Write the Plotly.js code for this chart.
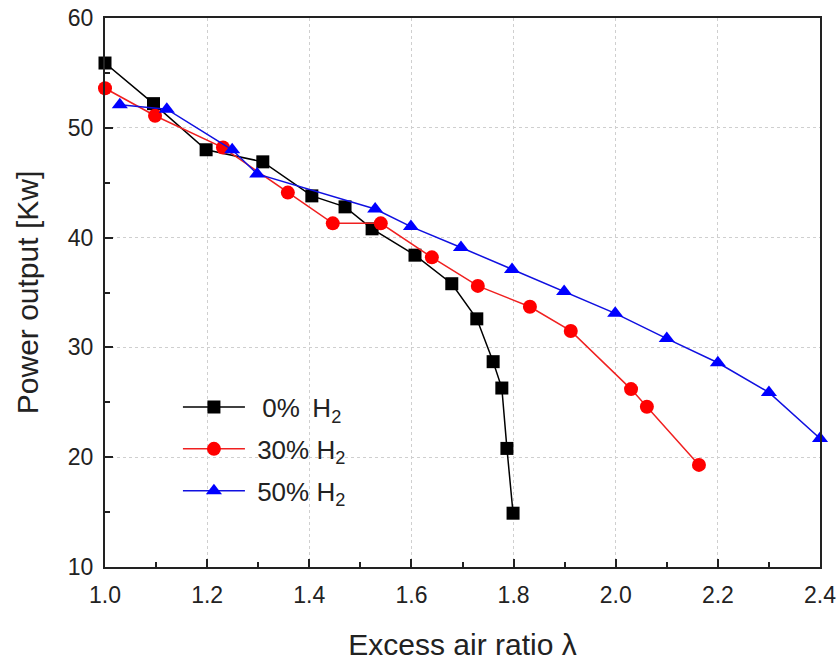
<!DOCTYPE html>
<html>
<head>
<meta charset="utf-8">
<script src="https://cdn.plot.ly/plotly-3.0.1.min.js"></script>
<style>html,body{margin:0;padding:0;background:#fff;}#chart{width:840px;height:661px;}</style>
</head>
<body>
<div id="chart"></div>
<script>
// Data
const h0_x = [1.00, 1.095, 1.198, 1.309, 1.405, 1.470, 1.523, 1.607, 1.679, 1.728, 1.760, 1.777, 1.787, 1.799];
const h0_y = [55.9, 52.2, 48.0, 46.9, 43.8, 42.8, 40.8, 38.4, 35.8, 32.6, 28.7, 26.3, 20.8, 14.9];

const h30_x = [1.00, 1.098, 1.231, 1.358, 1.446, 1.540, 1.640, 1.730, 1.832, 1.912, 2.030, 2.061, 2.163];
const h30_y = [53.6, 51.1, 48.2, 44.1, 41.3, 41.3, 38.2, 35.6, 33.7, 31.5, 26.2, 24.6, 19.3];

const h50_x = [1.029, 1.121, 1.249, 1.298, 1.529, 1.599, 1.697, 1.797, 1.899, 1.999, 2.100, 2.200, 2.300, 2.400];
const h50_y = [52.1, 51.7, 48.0, 45.8, 42.6, 41.0, 39.1, 37.1, 35.1, 33.1, 30.8, 28.6, 25.9, 21.7];

const names = ['\u00A0\u20090%\u00A0\u2009H<sub>2</sub>', '\u00A030% H<sub>2</sub>', '\u00A050% H<sub>2</sub>'];
const xTicks = [1.0, 1.2, 1.4, 1.6, 1.8, 2.0, 2.2, 2.4];
const xTickText = ['1.0', '1.2', '1.4', '1.6', '1.8', '2.0', '2.2', '2.4'];
const yTicks = [10, 20, 30, 40, 50, 60];

const traces = [
  {x: h0_x, y: h0_y, name: names[0], legendgroup: 'g0', mode: 'lines+markers', cliponaxis: false,
   line: {color: '#000000', width: 1.5}, marker: {symbol: 'square', size: 13, color: '#000000'}},
  {x: h30_x, y: h30_y, name: names[1], legendgroup: 'g1', mode: 'lines+markers', cliponaxis: false,
   line: {color: '#f02020', width: 1.5}, marker: {symbol: 'circle', size: 14, color: '#ff0000'}},
  {x: h50_x, y: h50_y, name: names[2], legendgroup: 'g2', mode: 'lines+markers', cliponaxis: false,
   line: {color: '#1010e0', width: 1.5}, marker: {symbol: 'triangle-up', size: 14, color: '#0000ff'}}
];

const layout = {
  width: 840, height: 661,
  margin: {l: 105, r: 20, t: 18, b: 94},
  paper_bgcolor: '#ffffff', plot_bgcolor: '#ffffff',
  font: {family: 'Liberation Sans, Arial, sans-serif', color: '#222'},
  showlegend: true,
  legend: {x: 0.102, y: 0.334, xanchor: 'left', yanchor: 'top', bgcolor: 'rgba(0,0,0,0)',
           font: {size: 26, color: '#222'}, itemwidth: 62, tracegroupgap: 5},
  xaxis: {
    range: [1.0, 2.4], tickvals: xTicks, ticktext: xTickText,
    showline: true, linecolor: '#222', linewidth: 2, mirror: true,
    ticks: 'inside', ticklen: 8, tickwidth: 2, tickcolor: '#222',
    minor: {dtick: 0.1, ticks: 'inside', ticklen: 5, tickwidth: 2, tickcolor: '#222', showgrid: false},
    showgrid: true, gridcolor: '#cfcfcf', griddash: 'dot', gridwidth: 1,
    zeroline: false, tickfont: {size: 23, color: '#222'}, ticklabelstandoff: 6,
    title: {text: 'Excess air ratio \u03BB', font: {size: 30, color: '#222'}, standoff: 29}
  },
  yaxis: {
    range: [10, 60], tickvals: yTicks,
    showline: true, linecolor: '#222', linewidth: 2, mirror: true,
    ticks: 'inside', ticklen: 8, tickwidth: 2, tickcolor: '#222',
    minor: {dtick: 5, ticks: 'inside', ticklen: 5, tickwidth: 2, tickcolor: '#222', showgrid: false},
    showgrid: true, gridcolor: '#cfcfcf', griddash: 'dot', gridwidth: 1,
    zeroline: false, tickfont: {size: 23, color: '#222'}, ticklabelstandoff: 5,
    title: {text: 'Power output [Kw]', font: {size: 30, color: '#222'}, standoff: 20}
  }
};

Plotly.newPlot('chart', traces, layout, {displayModeBar: false, staticPlot: true});
</script>
</body>
</html>
